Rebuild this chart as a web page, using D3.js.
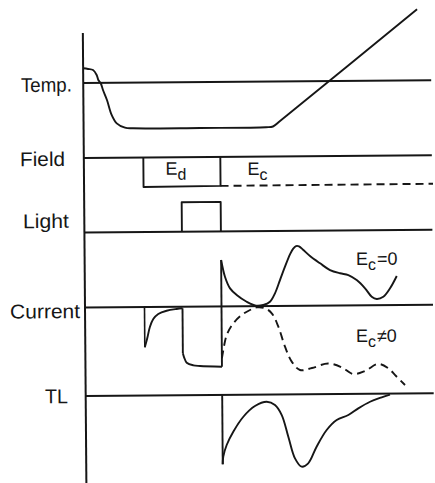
<!DOCTYPE html>
<html>
<head>
<meta charset="utf-8">
<script src="https://cdn.jsdelivr.net/npm/d3@7"></script>
<style>
  html, body { margin: 0; padding: 0; background: #fff; }
  svg { display: block; }
  text { font-family: "Liberation Sans", Arial, sans-serif; fill: #161616; }
</style>
</head>
<body>
<svg id="chart" width="435" height="483"></svg>
<script>
// Timing diagram: temperature, applied field, illumination, current and TL versus time.

// Panel labels (top to bottom)
const panelNames = ["Temp.", "Field", "Light", "Current", "TL"];

// Event times (time axis units)
const tEdOn = 59.5;     // field Ed applied
const tLightOn = 97.5;  // light switched on
const tOff = 136.5;     // light off, Ed removed, Ec applied / heating
const tEnd = 348;

// Temperature: cool down, hold, then linear heating
const tempCurve = [[0,14.7],[4.9,14],[9.9,12.9],[13.5,7.9],[15.1,2.9],[17.5,-0.4],[19.7,-7.2],[23.6,-17.2],
  [28.2,-32.2],[33.2,-40.6],[41.4,-45],[49.4,-45.7],[116.4,-45.9],[182.4,-45.7],[189.4,-45],[196.5,-39.6],[334.4,71.1]];

// Field: Ed pulse (solid box) then Ec level (dashed)
const fieldEd = [[tEdOn,0],[tEdOn,-29.5],[tOff,-29],[tOff,0]];
const fieldEc = [[tOff,-29],[tEnd + 1,-28.5]];

// Light pulse
const lightPulse = [[tLightOn,0],[tLightOn,29.5],[tOff,29.5],[tOff,0]];

// Current: transient at Ed on
const currentEdSpike = -40.3;
const currentEdDecay = [[tEdOn,-40.3],[62,-31.3],[64.8,-19.7],[68.2,-12.1],[73.2,-7.1],[81.6,-3.9],[91.6,-2.2],[tLightOn,-1.6]];
// Current: photocurrent under light
const currentPhotoStart = -46.6;
const currentPhoto = [[tLightOn,-46.6],[98.7,-50.6],[101.3,-56],[107.9,-58.7],[114.5,-59.4],[tOff,-60.3]];
// Current after light off, Ec = 0 (solid)
const currentEc0 = [[tOff,46.4],[140.2,29.7],[145.2,18],[151.8,11.3],[161.7,4.5],[171,0.5],[178.3,1.1],[185,4.3],
  [190.1,12.7],[195.2,25.9],[200.3,39.2],[205.4,51.5],[208.5,57],[211.5,59.8],[214.5,59.5],[218.5,56],[225.4,49.7],[235.4,42.3],
  [245.3,35.5],[255.3,32.2],[263.6,30.4],[271.9,25.3],[280.2,17],[286.8,8.5],[291.8,6.2],[298.4,8.4],
  [305.2,16.8],[312,29]];
// Current after light off, Ec ≠ 0 (dashed)
const currentEcNot0 = [[tOff,-52],[138,-43.6],[141.5,-28.6],[148.2,-17],[156.6,-8.8],[165,-3.8],[171.7,-1.2],
  [180,-2.2],[186.7,-7.3],[193.2,-20.7],[199.7,-40.8],[206.3,-55.8],[214.5,-64.2],[226.5,-62.3],[242.6,-57.9],
  [256.5,-62],[267.5,-68.6],[279.5,-65.7],[292.6,-58.8],[302.5,-62.9],[310.5,-71],[319.4,-80]];

// Thermoluminescence glow curve
const tlCurve = [[tOff,-69.4],[137.1,-61.8],[140.6,-50.1],[147.3,-36.9],[157.5,-22],[169.2,-11.4],[181,-7.2],
  [189.2,-10.5],[195.9,-20.6],[202.3,-42.3],[208.8,-64],[215.4,-72.4],[222,-69.1],[230.5,-52.5],[240.7,-35.9],
  [250.8,-26],[262.5,-21.1],[272.5,-14.5],[284.3,-8],[296,-3.7],[304.3,-1]];

// ---- layout ----
const W = 435, H = 483;
const axisX0 = 85, axisTop = 33;
const baselineY = { "Temp.": 83, "Field": 158, "Light": 232.5, "Current": 307.5, "TL": 396 };
const labelPos = {
  "Temp.":  { x: 22.7, y: 91.5, len: 51 },
  "Field":  { x: 21.2, y: 165.7, len: 45 },
  "Light":  { x: 23.6, y: 227.7, len: 46 },
  "Current":{ x: 10,   y: 318,   len: 70 },
  "TL":     { x: 44.3, y: 403,   len: 23 }
};

const svg = d3.select("#chart");
svg.append("rect").attr("width", W).attr("height", H).attr("fill", "#fff");

// whole drawing sits slightly skewed on the sheet
const g = svg.append("g").attr("transform", "rotate(-0.45, 83, 308)");

const x = d3.scaleLinear().domain([0, 350]).range([axisX0, axisX0 + 350]);
const yFor = name => d3.scaleLinear().domain([-100, 100]).range([baselineY[name] + 100, baselineY[name] - 100]);
const y = {};
panelNames.forEach(n => y[n] = yFor(n));

const ink = "#161616";
const lineSmooth = sc => d3.line().x(d => x(d[0])).y(d => sc(d[1])).curve(d3.curveCatmullRom.alpha(0.5));
const lineStraight = sc => d3.line().x(d => x(d[0])).y(d => sc(d[1]));

function path(data, gen, opts = {}) {
  g.append("path")
    .attr("d", gen(data))
    .attr("fill", "none")
    .attr("stroke", ink)
    .attr("stroke-width", opts.w || 1.9)
    .attr("stroke-linejoin", "round")
    .attr("stroke-linecap", "butt")
    .attr("stroke-dasharray", opts.dash || null);
}

// vertical time axis
g.append("line")
  .attr("x1", x(0)).attr("x2", x(0))
  .attr("y1", axisTop).attr("y2", H + 10)
  .attr("stroke", ink).attr("stroke-width", 2);

// baselines
panelNames.forEach(n => {
  path([[0,0],[tEnd,0]], lineStraight(y[n]), { w: 1.8 });
});

// labels
panelNames.forEach(n => {
  const p = labelPos[n];
  g.append("text")
    .attr("x", p.x).attr("y", p.y)
    .attr("font-size", 20)
    .attr("textLength", p.len)
    .attr("lengthAdjust", "spacingAndGlyphs")
    .text(n);
});

// Temperature
path(tempCurve, lineSmooth(y["Temp."]));

// Field
path(fieldEd, lineStraight(y["Field"]));
path(fieldEc, lineStraight(y["Field"]), { dash: "8,5" });

// Light
path(lightPulse, lineStraight(y["Light"]));

// Current
const yc = y["Current"];
path([[tEdOn,0],[tEdOn,currentEdSpike]], lineStraight(yc), { w: 1.6 });
path(currentEdDecay, lineSmooth(yc));
path([[tLightOn,-1.6],[tLightOn,currentPhotoStart]], lineStraight(yc));
path(currentPhoto, lineSmooth(yc));
path([[tOff,currentPhoto[currentPhoto.length-1][1]],[tOff,currentEc0[0][1]]], lineStraight(yc));
path(currentEc0, lineSmooth(yc));
path(currentEcNot0, lineSmooth(yc), { dash: "8,5" });

// TL
const yt = y["TL"];
path([[tOff,0],[tOff,tlCurve[0][1]]], lineStraight(yt));
path(tlCurve, lineSmooth(yt));

// annotations
function subLabel(px, py, main, sub, rest) {
  const t = g.append("text").attr("x", px).attr("y", py).attr("font-size", 18);
  t.append("tspan").text(main);
  t.append("tspan").attr("dy", 5).attr("font-size", 16).text(sub);
  if (rest) t.append("tspan").attr("dy", -5).attr("dx", 1).text(rest);
}
subLabel(x(tEdOn) + 22, y["Field"](-17.5), "E", "d");
subLabel(x(tOff) + 27, y["Field"](-18.3), "E", "c");
subLabel(x(271.3), yc(40.3), "E", "c", "=0");
subLabel(x(270.7), yc(-36.7), "E", "c", "≠0");
</script>
</body>
</html>
